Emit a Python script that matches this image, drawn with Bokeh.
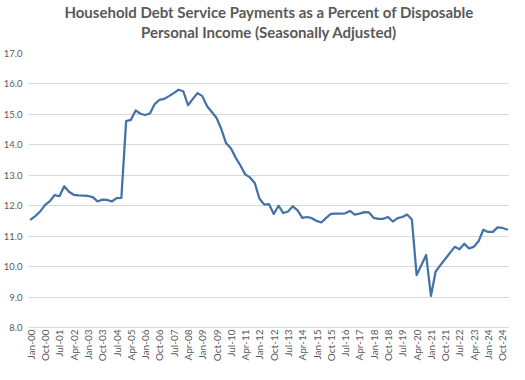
import math
from bokeh.plotting import figure
from bokeh.models import Range1d, FixedTicker, Title, PrintfTickFormatter
from bokeh.embed import file_html
from bokeh.resources import INLINE

# Household debt service payments, % of disposable personal income (quarterly, Q1 2000 - Q1 2025)
dsr = [
    11.55, 11.67, 11.82, 12.03, 12.15, 12.35, 12.31, 12.64, 12.46, 12.36,
    12.34, 12.33, 12.32, 12.28, 12.14, 12.20, 12.19, 12.14, 12.25, 12.26,
    14.78, 14.82, 15.13, 15.02, 14.98, 15.03, 15.34, 15.48, 15.51, 15.60,
    15.70, 15.81, 15.76, 15.30, 15.51, 15.70, 15.60, 15.27, 15.08, 14.88,
    14.51, 14.05, 13.89, 13.58, 13.32, 13.03, 12.93, 12.75, 12.23, 12.04,
    12.05, 11.73, 12.00, 11.76, 11.81, 11.98, 11.85, 11.60, 11.63, 11.59,
    11.50, 11.45, 11.60, 11.73, 11.74, 11.74, 11.75, 11.83, 11.71, 11.74,
    11.79, 11.78, 11.60, 11.57, 11.57, 11.63, 11.48, 11.59, 11.63, 11.71,
    11.55, 9.72, 10.05, 10.38, 9.04, 9.84, 10.05, 10.25, 10.45, 10.65,
    10.57, 10.75, 10.60, 10.65, 10.83, 11.21, 11.14, 11.14, 11.29, 11.27,
    11.22,
]
quarter_index = list(range(len(dsr)))

tick_labels = [
    "Jan-00", "Oct-00", "Jul-01", "Apr-02", "Jan-03", "Oct-03", "Jul-04",
    "Apr-05", "Jan-06", "Oct-06", "Jul-07", "Apr-08", "Jan-09", "Oct-09",
    "Jul-10", "Apr-11", "Jan-12", "Oct-12", "Jul-13", "Apr-14", "Jan-15",
    "Oct-15", "Jul-16", "Apr-17", "Jan-18", "Oct-18", "Jul-19", "Apr-20",
    "Jan-21", "Oct-21", "Jul-22", "Apr-23", "Jan-24", "Oct-24",
]
tick_step = 3
tick_positions = [k * tick_step for k in range(len(tick_labels))]
y_ticks = [8, 9, 10, 11, 12, 13, 14, 15, 16, 17]

title_line1 = "Household Debt Service Payments as a Percent of Disposable"
title_line2 = "Personal Income (Seasonally Adjusted)"

GRAY = "#595959"
FONT = "Lato"

p = figure(
    width=509, height=364,
    output_backend="svg", toolbar_location=None,
    x_range=Range1d(-0.5, len(dsr) - 0.5),
    y_range=Range1d(8, 17),
    min_border_left=2, min_border_right=0, min_border_top=5, min_border_bottom=0,
)

# spacer between the title block and the plot area
p.add_layout(Title(text=" ", text_font_size="10px", standoff=0, offset=0), "above")
p.add_layout(
    Title(text=title_line2, align="center", text_font=FONT, text_font_size="15px",
          text_font_style="bold", text_color=GRAY, standoff=0, offset=0),
    "above",
)
p.add_layout(
    Title(text=title_line1, align="center", text_font=FONT, text_font_size="15px",
          text_font_style="bold", text_color=GRAY, standoff=0, offset=0),
    "above",
)

p.line(quarter_index, dsr, line_color="#4472a8", line_width=2.25,
       line_join="round", line_cap="round")

p.xaxis.ticker = FixedTicker(ticks=tick_positions)
p.xaxis.major_label_overrides = {pos: lab for pos, lab in zip(tick_positions, tick_labels)}
p.xaxis.major_label_orientation = math.pi / 2
p.xaxis.axis_line_color = "#d9d9d9"
p.xaxis.major_tick_line_color = None
p.xaxis.minor_tick_line_color = None
p.xaxis.major_tick_out = 0
p.xaxis.major_tick_in = 0
p.xaxis.minor_tick_out = 0
p.xaxis.major_label_text_font = FONT
p.xaxis.major_label_text_font_size = "10px"
p.xaxis.major_label_text_color = GRAY
p.xaxis.major_label_standoff = 2

p.yaxis.ticker = FixedTicker(ticks=y_ticks)
p.yaxis.formatter = PrintfTickFormatter(format="%.1f")
p.yaxis.axis_line_color = None
p.yaxis.major_tick_line_color = None
p.yaxis.minor_tick_line_color = None
p.yaxis.major_tick_out = 0
p.yaxis.major_tick_in = 0
p.yaxis.minor_tick_out = 0
p.yaxis.major_label_text_font = FONT
p.yaxis.major_label_text_font_size = "9.5px"
p.yaxis.major_label_text_color = GRAY
p.yaxis.major_label_standoff = 6

p.xgrid.grid_line_color = None
p.ygrid.grid_line_color = "#d9d9d9"
p.outline_line_color = None

open("out.html", "w").write(file_html(p, INLINE))
